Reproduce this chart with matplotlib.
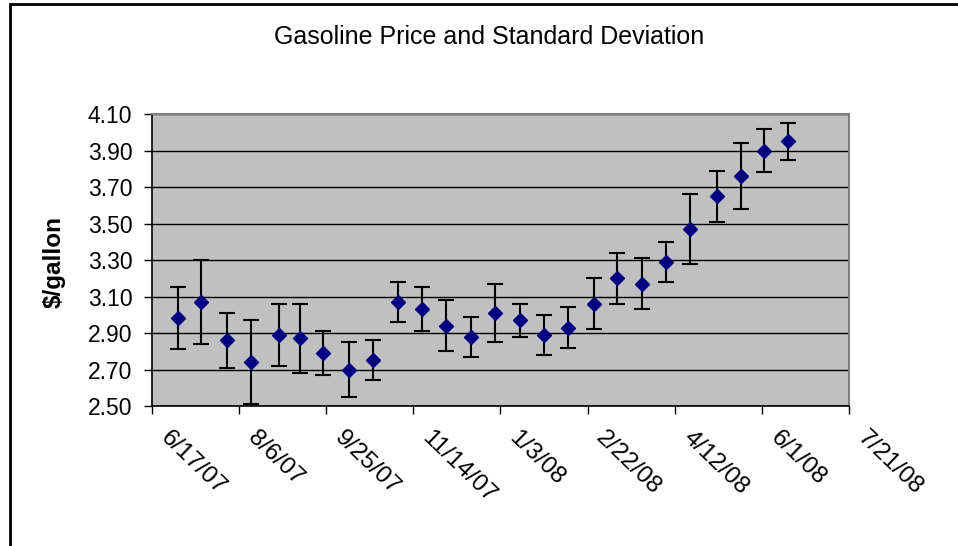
import matplotlib
matplotlib.use('Agg')
import matplotlib.pyplot as plt
import matplotlib.patches as patches
import matplotlib.transforms as mtransforms
import pandas as pd

plt.rcParams['font.family'] = ['Liberation Sans', 'DejaVu Sans']

dates = ['2007-07-02', '2007-07-15', '2007-07-30', '2007-08-13', '2007-08-29',
         '2007-09-10', '2007-09-23', '2007-10-08', '2007-10-22', '2007-11-05',
         '2007-11-19', '2007-12-03', '2007-12-17', '2007-12-31', '2008-01-14',
         '2008-01-28', '2008-02-11', '2008-02-26', '2008-03-10', '2008-03-24',
         '2008-04-07', '2008-04-21', '2008-05-06', '2008-05-20', '2008-06-02',
         '2008-06-16']
price = [2.98, 3.07, 2.86, 2.74, 2.89, 2.87, 2.79, 2.70, 2.75, 3.07,
         3.03, 2.94, 2.88, 3.01, 2.97, 2.89, 2.93, 3.06, 3.20, 3.17,
         3.29, 3.47, 3.65, 3.76, 3.90, 3.95]
std = [0.17, 0.23, 0.15, 0.23, 0.17, 0.19, 0.12, 0.15, 0.11, 0.11,
       0.12, 0.14, 0.11, 0.16, 0.09, 0.11, 0.11, 0.14, 0.14, 0.14,
       0.11, 0.19, 0.14, 0.18, 0.12, 0.10]
tick_dates = ['2007-06-17', '2007-08-06', '2007-09-25', '2007-11-14', '2008-01-03',
              '2008-02-22', '2008-04-12', '2008-06-01', '2008-07-21']
tick_labels = ['6/17/07', '8/6/07', '9/25/07', '11/14/07', '1/3/08',
               '2/22/08', '4/12/08', '6/1/08', '7/21/08']
y_ticks = [2.50, 2.70, 2.90, 3.10, 3.30, 3.50, 3.70, 3.90, 4.10]

x = pd.to_datetime(dates)
xt = pd.to_datetime(tick_dates)

fig = plt.figure(figsize=(9.58, 5.46), dpi=100)
ax = fig.add_axes([0.1584, 0.2564, 0.7278, 0.5348])
ax.set_facecolor('#C0C0C0')

ax.errorbar(x, price, yerr=std, fmt='D', color='#000080', markersize=6.8,
            ecolor='black', elinewidth=1.5, capsize=5.6, capthick=1.5, zorder=3)

ax.set_xlim(xt[0], xt[-1])
ax.set_ylim(2.50, 4.10)
ax.set_yticks(y_ticks)
ax.set_yticklabels(['%.2f' % v for v in y_ticks])
ax.set_xticks(xt)
ax.set_xticklabels(tick_labels)
ax.yaxis.grid(True, color='black', linewidth=1.0)
ax.set_axisbelow(True)

for s in ['top', 'right']:
    ax.spines[s].set_color('#808080')
    ax.spines[s].set_linewidth(1.5)
for s in ['left', 'bottom']:
    ax.spines[s].set_color('black')
    ax.spines[s].set_linewidth(1.2)

ax.tick_params(axis='y', direction='out', length=6, width=1, labelsize=16.5, pad=8)
ax.tick_params(axis='x', direction='out', length=6, width=1, labelsize=17.5, pad=9)
offset = mtransforms.ScaledTranslation(14 / 72, 0, fig.dpi_scale_trans)
for lab in ax.get_xticklabels():
    lab.set_rotation(-44)
    lab.set_ha('left')
    lab.set_va('top')
    lab.set_rotation_mode('anchor')
    lab.set_transform(lab.get_transform() + offset)

fig.text(54 / 958, 1 - 262 / 546, '$/gallon', fontsize=17.5, fontweight='bold',
         rotation=90, ha='center', va='center')
fig.text(0.511, 0.933, 'Gasoline Price and Standard Deviation', fontsize=18,
         ha='center', va='center')

# chart frame (cropped on right and bottom)
frame = patches.Rectangle((10 / 958, -0.1), 1.2, 1.1 - 4 / 546, transform=fig.transFigure,
                          fill=False, edgecolor='black', linewidth=2)
fig.patches.append(frame)

fig.savefig('out.png', dpi=100)
